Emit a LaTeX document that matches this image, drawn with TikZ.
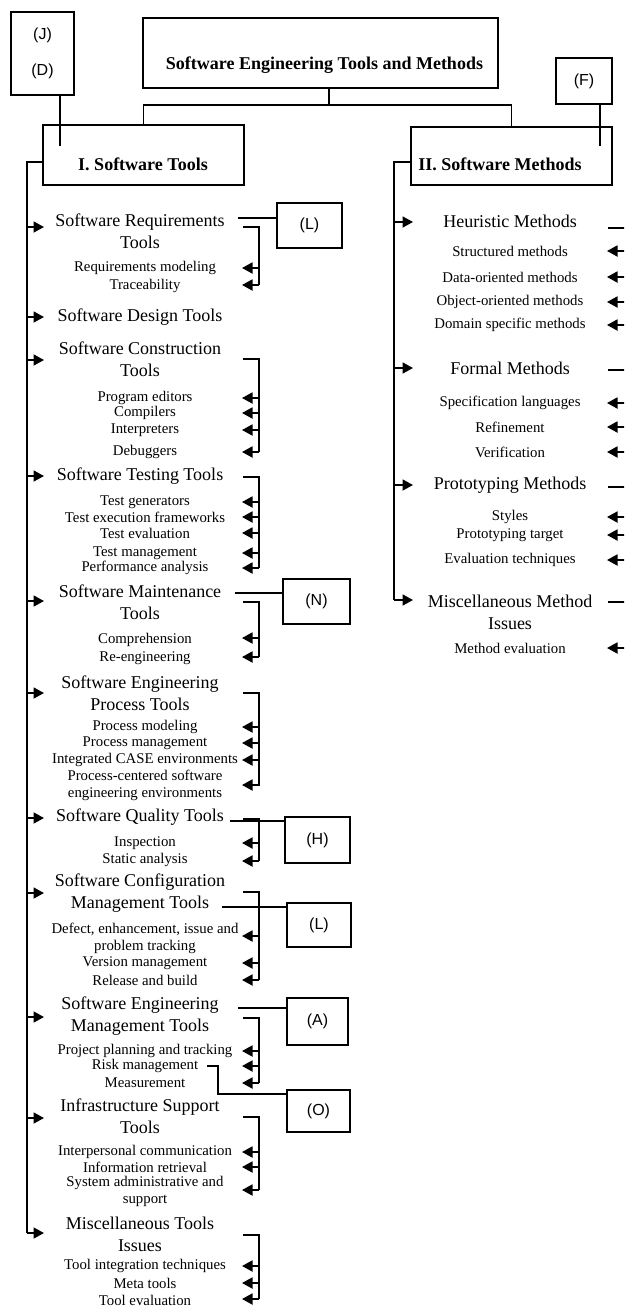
\documentclass[tikz,border=0pt]{standalone}
\usepackage{fontspec}
\setmainfont{Liberation Serif}
\newfontfamily\tagfont{Liberation Sans}
\usetikzlibrary{arrows.meta}
\begin{document}
\begin{tikzpicture}[x=1pt,y=-1pt,
  framebox/.style={draw,line width=1.3pt,inner sep=0pt},
  tagbox/.style={draw,line width=1.1pt,inner sep=0pt,font=\tagfont\fontsize{16}{36}\selectfont,align=center},
  headtext/.style={inner sep=0pt,font=\fontsize{18}{22}\selectfont\bfseries},
  maintext/.style={inner sep=0pt,align=center,font=\fontsize{18}{22}\selectfont},
  subtext/.style={inner sep=0pt,align=center,font=\fontsize{14.8}{17}\selectfont},
  wire/.style={line width=1.2pt},
  bracket/.style={line width=1.8pt},
  feed/.style={line width=1.8pt,-{Triangle[length=10.5pt,width=11pt]}},
]
\useasboundingbox (0,0) rectangle (624,1309);
\clip (0,0) rectangle (624,1309);
\fill[white] (0,0) rectangle (624,1309);

% ---- header boxes ----
\node[framebox,minimum width=355,minimum height=70] (root) at (320.5,53) {};
\node[headtext] (rootlabel) at (324.5,65) {Software Engineering Tools and Methods};
\node[framebox,minimum width=201,minimum height=60] (tools) at (143.5,155) {};
\node[headtext] (toolslabel) at (143,164) {I. Software Tools};
\node[framebox,minimum width=201,minimum height=58] (methods) at (511.5,156) {};
\node[headtext] (methodslabel) at (500,164) {II. Software Methods};

% tree under the root
\coordinate (stem) at (329,105);
\draw[wire] (root.south -| stem) -- (stem);
\draw[wire] (tools.north) -- (tools.north |- stem) -- (methods.north |- stem) -- (methods.north);

% reference tags on the two branches
\node[tagbox,minimum width=63,minimum height=83] (jd) at (42.5,53.5) {(J)\\(D)};
\node[tagbox,minimum width=56,minimum height=46] (f) at (584,81) {(F)};
\coordinate (jdend) at (60,146);
\coordinate (fend) at (600,146);
\draw[wire] (jd.south -| jdend) -- (jdend);
\draw[wire] (f.south -| fend) -- (fend);

% ---- I. Software Tools ----
\coordinate (ttop) at (27,162);
\coordinate (tend) at (27,1233);
\draw[wire] (tools.west |- ttop) -- (ttop) -- (tend);

\foreach \nm/\ty/\ay/\txt in {
  req/231.5/227/{Software Requirements\\Tools},
  des/317/317/{Software Design Tools},
  con/359/360/{Software Construction\\Tools},
  tst/476/476/{Software Testing Tools},
  mnt/602/601/{Software Maintenance\\Tools},
  prc/693/693/{Software Engineering\\Process Tools},
  qal/817/818/{Software Quality Tools},
  cfg/893.5/893/{Software Configuration\\Management Tools},
  mgt/1016.5/1017/{Software Engineering\\Management Tools},
  inf/1116.5/1118/{Infrastructure Support\\Tools},
  msc/1234/1233/{Miscellaneous Tools\\Issues}}{
  \node[maintext] (\nm) at (140,\ty) {\txt};
  \draw[feed] (27,\ay) -- (44,\ay);
}

\foreach \nm/\ty/\ay/\txt in {
  rq1/268/268/{Requirements modeling},
  rq2/286/285/{Traceability},
  cn1/398/398/{Program editors},
  cn2/413/413/{Compilers},
  cn3/430/430/{Interpreters},
  cn4/452/452/{Debuggers},
  ts1/502/502/{Test generators},
  ts2/517/517/{Test execution frameworks},
  ts3/533/533/{Test evaluation},
  ts4/553/553/{Test management},
  ts5/568/568/{Performance analysis},
  mn1/640/638/{Comprehension},
  mn2/658/657/{Re-engineering},
  pr1/727/727/{Process modeling},
  pr2/743/743/{Process management},
  pr3/760/760/{Integrated CASE environments},
  pr4/785/785/{Process-centered software\\engineering environments},
  ql1/843/843/{Inspection},
  ql2/860/861/{Static analysis},
  cf1/938/936/{Defect, enhancement, issue and\\problem tracking},
  cf2/963/963/{Version management},
  cf3/980/980/{Release and build},
  mg1/1051/1051/{Project planning and tracking},
  risk/1066/1066/{Risk management},
  mg3/1083/1083/{Measurement},
  in1/1152/1152/{Interpersonal communication},
  in2/1167/1167/{Information retrieval},
  in3/1191/1190/{System administrative and\\support},
  ms1/1266/1266/{Tool integration techniques},
  ms2/1283/1283/{Meta tools},
  ms3/1300/1299/{Tool evaluation}}{
  \node[subtext] (\nm) at (145,\ty) {\txt};
  \draw[feed] (259,\ay) -- (242,\ay);
}

% brackets collecting the sub-tools
\foreach \top/\bot in {227/285,359/452,477/568,602/657,693/786,819/861,892/980,1018/1083,1117/1190,1235/1299}{
  \draw[bracket] (243,\top) -- (259,\top) -- (259,\bot);
}

% reference tags on the tool groups
\node[tagbox,minimum width=65,minimum height=45] (tagL1) at (309.5,225.5) {(L)};
\node[tagbox,minimum width=67,minimum height=45] (tagN) at (316.5,601.5) {(N)};
\node[tagbox,minimum width=65,minimum height=46] (tagH) at (317.5,840) {(H)};
\node[tagbox,minimum width=64,minimum height=44] (tagL2) at (319,925) {(L)};
\node[tagbox,minimum width=61,minimum height=47] (tagA) at (317.5,1021.5) {(A)};
\node[tagbox,minimum width=63,minimum height=42] (tagO) at (318.5,1111) {(O)};

\coordinate (fromL1) at (238,218);
\coordinate (fromN) at (235,593);
\coordinate (fromH) at (230,821);
\coordinate (fromL2) at (222,907);
\coordinate (fromA) at (238,1008);
\coordinate (fromO) at (207,1066);
\coordinate (bendO) at (218,1094);
\draw[wire] (fromL1) -- (fromL1 -| tagL1.west);
\draw[wire] (fromN) -- (fromN -| tagN.west);
\draw[wire] (fromH) -- (fromH -| tagH.west);
\draw[wire] (fromL2) -- (fromL2 -| tagL2.west);
\draw[wire] (fromA) -- (fromA -| tagA.west);
\draw[wire] (fromO) -- (fromO -| bendO) -- (bendO) -- (bendO -| tagO.west);

% ---- II. Software Methods ----
\coordinate (mtop) at (394,162);
\coordinate (mend) at (394,600);
\draw[wire] (methods.west |- mtop) -- (mtop) -- (mend);

\foreach \nm/\ty/\ay/\txt in {
  heu/221/222/{Heuristic Methods},
  frm/368/368/{Formal Methods},
  pro/485/485/{Prototyping Methods},
  mms/612/600/{Miscellaneous Method\\Issues}}{
  \node[maintext] (\nm) at (510,\ty) {\txt};
  \draw[feed] (394,\ay) -- (413,\ay);
}

\foreach \nm/\ty/\txt in {
  hu1/251/{Structured methods},
  hu2/277/{Data-oriented methods},
  hu3/302/{Object-oriented methods},
  hu4/325/{Domain specific methods},
  fm1/403/{Specification languages},
  fm2/427/{Refinement},
  fm3/452/{Verification},
  pt1/517/{Styles},
  pt2/535/{Prototyping target},
  pt3/560/{Evaluation techniques},
  mm1/648/{Method evaluation}}{
  \node[subtext] (\nm) at (510,\ty) {\txt};
  \draw[feed] (634,\ty) -- (607,\ty);
}

\foreach \top/\bot in {228/325,370/452,487/560,602/648}{
  \draw[bracket] (608,\top) -- (634,\top) -- (634,\bot);
}
\end{tikzpicture}
\end{document}
